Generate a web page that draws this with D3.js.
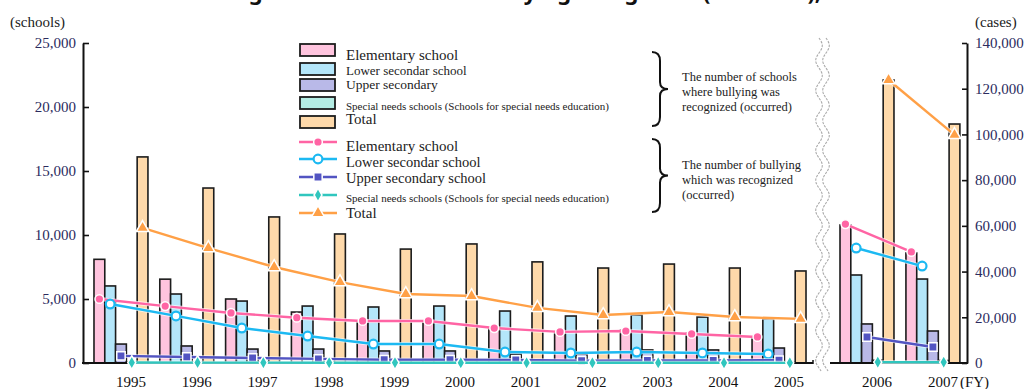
<!DOCTYPE html>
<html>
<head>
<meta charset="utf-8">
<script src="https://cdn.jsdelivr.net/npm/d3@7"></script>
<style>
  html, body { margin: 0; padding: 0; background: #fff; }
  svg { display: block; }
  text { font-family: "Liberation Serif", "DejaVu Serif", serif; }
</style>
</head>
<body>
<svg id="chart" width="1027" height="389"></svg>
<script>
// Fiscal years, split by the axis break
const yearsBefore = ["1995","1996","1997","1998","1999","2000","2001","2002","2003","2004","2005"];
const yearsAfter = ["2006","2007"];
const years = yearsBefore.concat(yearsAfter);

// Number of schools where bullying was recognized (bars, left axis)
const schoolsElementary = [8100, 6550, 5000, 3980, 3250, 3280, 2730, 2420, 2580, 2340, 2030, 10780, 8590];
const schoolsLowerSec   = [6020, 5390, 4840, 4450, 4375, 4450, 4060, 3670, 3750, 3590, 3440, 6875, 6560];
const schoolsUpperSec   = [1480, 1330, 1090, 1090, 940, 940, 700, 700, 1020, 1020, 1170, 3050, 2500];
const schoolsSpecial    = [60, 55, 50, 45, 45, 40, 40, 35, 40, 40, 40, 210, 190];
const schoolsTotal      = [16100, 13670, 11410, 10080, 8900, 9300, 7900, 7420, 7730, 7420, 7190, 22110, 18670];

// Number of bullying cases recognized (lines, right axis)
const casesElementary = [28000, 24900, 21900, 19800, 18400, 18400, 15300, 13600, 14000, 12700, 11400, 60800, 48600];
const casesLowerSec   = [25800, 20600, 15300, 11800, 8300, 8300, 4800, 4400, 4800, 4400, 3900, 50300, 42400];
const casesUpperSec   = [3100, 2600, 2200, 1800, 1400, 1400, 1300, 1000, 1100, 1100, 1200, 11400, 7000];
const casesSpecial    = [200, 180, 160, 130, 120, 100, 90, 80, 80, 80, 70, 380, 340];
const casesTotal      = [59100, 50300, 42000, 35400, 30200, 29300, 24100, 21000, 22300, 20100, 19300, 123800, 99800];

// Axis ticks
const schoolTicks = [0, 5000, 10000, 15000, 20000, 25000];
const caseTicks = [0, 20000, 40000, 60000, 80000, 100000, 120000, 140000];

// Legend labels
const barLabels = ["Elementary school", "Lower secondar school", "Upper secondary",
  "Special needs schools (Schools for special needs education)", "Total"];
const lineLabels = ["Elementary school", "Lower secondar school", "Upper secondary school",
  "Special needs schools (Schools for special needs education)", "Total"];
const seriesKeys = ["elem", "lower", "upper", "special", "total"];

const barFill  = { elem: "#ffc4de", lower: "#b4e6fa", upper: "#b9b9e8", special: "#b4ede4", total: "#fed9aa" };
const lineColor = { elem: "#ff64a4", lower: "#1cb9f2", upper: "#5254c2", special: "#30c6be", total: "#ffa046" };
const markerShape = { elem: d3.symbolCircle, lower: d3.symbolCircle, upper: d3.symbolSquare, special: d3.symbolDiamond, total: d3.symbolTriangle };
const markerSize = { elem: 60, lower: 60, upper: 70, special: 55, total: 70 };

const schoolsBySeries = { elem: schoolsElementary, lower: schoolsLowerSec, upper: schoolsUpperSec, special: schoolsSpecial, total: schoolsTotal };
const casesBySeries = { elem: casesElementary, lower: casesLowerSec, upper: casesUpperSec, special: casesSpecial, total: casesTotal };

const svg = d3.select("#chart");

// Scales
const yTop = 43, yBase = 363;
const ySchools = d3.scaleLinear().domain([0, 25000]).range([yBase, yTop]);
const yCases = d3.scaleLinear().domain([0, 140000]).range([yBase, yTop]);

const padIn = 0.18, padOut = 0.167;
const xBefore = d3.scaleBand().domain(yearsBefore).range([83, 817]).paddingInner(padIn).paddingOuter(padOut);
const xAfter = d3.scaleBand().domain(yearsAfter).range([829, 971]).paddingInner(padIn).paddingOuter(padOut);
const xYear = y => (yearsBefore.includes(y) ? xBefore(y) : xAfter(y));
const bw = xBefore.bandwidth();
const xSeries = d3.scaleBand().domain(seriesKeys).range([0, bw]);
const sw = xSeries.bandwidth();

// Title (runs off the top edge of the frame)
svg.append("text")
  .attr("x", 530).attr("y", 0)
  .attr("text-anchor", "middle")
  .style("font-family", "'Noto Sans', sans-serif")
  .style("font-weight", "bold").style("font-size", "22px").attr("fill", "#111")
  .text("Changes in the number of bullying recognized (occurred), etc.");

// Bars
const barG = svg.append("g");
seriesKeys.forEach(k => {
  barG.selectAll(null)
    .data(years.map((y, i) => ({ year: y, v: schoolsBySeries[k][i] })))
    .join("rect")
    .attr("x", d => xYear(d.year) + xSeries(k))
    .attr("y", d => ySchools(d.v))
    .attr("width", sw)
    .attr("height", d => yBase - ySchools(d.v))
    .attr("fill", barFill[k])
    .attr("stroke", "#1c1c1c")
    .attr("stroke-width", 1.6);
});

// Axis break (double wavy line)
const wave = d3.line().curve(d3.curveBasis);
function wavePts(cx) {
  const pts = [];
  for (let y = 38; y <= 372; y += 3) pts.push([cx + 3.5 * Math.sin((y - 38) / 30 * 2 * Math.PI), y]);
  return pts;
}
const breakG = svg.append("g");
breakG.append("path").attr("d", wave(wavePts(819))).attr("fill", "none")
  .attr("stroke", "#aaa").attr("stroke-width", 1.1).attr("stroke-dasharray", "2.5 1.2");
breakG.append("path").attr("d", wave(wavePts(826))).attr("fill", "none")
  .attr("stroke", "#aaa").attr("stroke-width", 1.1).attr("stroke-dasharray", "2.5 1.2");

// Base lines
svg.append("line").attr("x1", 82).attr("x2", 813).attr("y1", yBase).attr("y2", yBase)
  .attr("stroke", "#111").attr("stroke-width", 2);
svg.append("line").attr("x1", 813).attr("x2", 813).attr("y1", yBase - 3).attr("y2", yBase + 1)
  .attr("stroke", "#111").attr("stroke-width", 1.5);
svg.append("line").attr("x1", 830).attr("x2", 968).attr("y1", yBase).attr("y2", yBase)
  .attr("stroke", "#111").attr("stroke-width", 2);

// Left axis (schools)
const leftAxis = svg.append("g").attr("transform", "translate(83,0)")
  .call(d3.axisLeft(ySchools).tickValues(schoolTicks).tickFormat(d3.format(","))
    .tickSizeInner(-6).tickSizeOuter(0).tickPadding(7));
leftAxis.select(".domain").attr("stroke", "#111").attr("stroke-width", 2);
leftAxis.selectAll(".tick line").attr("stroke", "#111").attr("stroke-width", 1.6);
leftAxis.selectAll(".tick text").attr("fill", "#2b2b5e")
  .style("font-family", "'Liberation Serif', serif").style("font-size", "15px");

// Right axis (cases)
const rightAxis = svg.append("g").attr("transform", "translate(967,0)")
  .call(d3.axisRight(yCases).tickValues(caseTicks).tickFormat(d3.format(","))
    .tickSizeInner(-5).tickSizeOuter(0).tickPadding(8));
rightAxis.select(".domain").attr("stroke", "#111").attr("stroke-width", 2);
rightAxis.selectAll(".tick line").attr("stroke", "#111").attr("stroke-width", 1.6);
rightAxis.selectAll(".tick text").attr("fill", "#2b2b5e")
  .style("font-family", "'Liberation Serif', serif").style("font-size", "15px");

// Unit labels
svg.append("text").attr("x", 10).attr("y", 27).style("font-size", "15px").attr("fill", "#222").text("(schools)");
svg.append("text").attr("x", 975).attr("y", 27).style("font-size", "15px").attr("fill", "#222").text("(cases)");

// Year labels
svg.append("g").selectAll("text")
  .data(years)
  .join("text")
  .attr("x", d => xYear(d) + bw / 2 + 10)
  .attr("y", 387)
  .attr("text-anchor", "middle")
  .style("font-size", "15px").attr("fill", "#111")
  .text(d => d);
svg.append("text").attr("x", xAfter("2007") + bw / 2 + 27).attr("y", 387)
  .style("font-size", "15px").attr("fill", "#111").text("(FY)");

// Lines with markers (segments drawn separately on each side of the break)
const lineGen = d3.line().x(d => d.x).y(d => d.y);
function drawMarker(g, k, x, y) {
  const s = g.append("path")
    .attr("d", d3.symbol().type(markerShape[k]).size(markerSize[k])())
    .attr("transform", `translate(${x},${y})`)
    .attr("stroke", "#fff").attr("stroke-width", 1.5);
  if (k === "lower") {
    s.attr("fill", "#fff").attr("stroke", lineColor[k]).attr("stroke-width", 2.2);
  } else {
    s.attr("fill", lineColor[k]);
  }
}
const lineG = svg.append("g");
seriesKeys.forEach(k => {
  const pts = years.map((y, i) => ({
    year: y,
    x: xYear(y) + xSeries(k) + sw / 2,
    y: yCases(casesBySeries[k][i])
  }));
  [pts.filter(p => yearsBefore.includes(p.year)), pts.filter(p => yearsAfter.includes(p.year))]
    .forEach(seg => {
      lineG.append("path").attr("d", lineGen(seg)).attr("fill", "none")
        .attr("stroke", "#fff").attr("stroke-width", 4).attr("stroke-opacity", 0.7);
      lineG.append("path").attr("d", lineGen(seg)).attr("fill", "none")
        .attr("stroke", lineColor[k]).attr("stroke-width", 2.4);
    });
  pts.forEach(p => drawMarker(lineG, k, p.x, p.y));
});

// Legend: bars
const legG = svg.append("g");
const barLegRectY = [44, 63, 79, 97, 116];
const barLegTextY = [60, 75, 89, 110, 124];
const barLegSize = [15, 13, 13.5, 11, 15];
seriesKeys.forEach((k, i) => {
  legG.append("rect").attr("x", 300).attr("y", barLegRectY[i]).attr("width", 35).attr("height", 12)
    .attr("fill", barFill[k]).attr("stroke", "#1c1c1c").attr("stroke-width", 1.8);
  legG.append("text").attr("x", 346).attr("y", barLegTextY[i])
    .style("font-size", barLegSize[i] + "px").attr("fill", "#222").text(barLabels[i]);
});

// Legend: lines
const lineLegY = [142, 159, 177, 195, 213];
const lineLegTextY = [151, 167, 183, 202, 218];
const lineLegSize = [15, 14.5, 14.5, 11, 15];
seriesKeys.forEach((k, i) => {
  legG.append("line").attr("x1", 299).attr("x2", 337).attr("y1", lineLegY[i]).attr("y2", lineLegY[i])
    .attr("stroke", lineColor[k]).attr("stroke-width", 2.6);
  drawMarker(legG, k, 318, lineLegY[i]);
  legG.append("text").attr("x", 346).attr("y", lineLegTextY[i])
    .style("font-size", lineLegSize[i] + "px").attr("fill", "#222").text(lineLabels[i]);
});

// Braces with group notes
function brace(x0, y0, y1) {
  const xm = x0 + 8, ym = (y0 + y1) / 2, xt = x0 + 16;
  return `M${x0},${y0} Q${xm},${y0} ${xm},${y0 + 9} L${xm},${ym - 7} Q${xm},${ym} ${xt},${ym}` +
    ` Q${xm},${ym} ${xm},${ym + 7} L${xm},${y1 - 9} Q${xm},${y1} ${x0},${y1}`;
}
svg.append("path").attr("d", brace(652, 52, 126)).attr("fill", "none").attr("stroke", "#111").attr("stroke-width", 2);
svg.append("path").attr("d", brace(652, 139, 212)).attr("fill", "none").attr("stroke", "#111").attr("stroke-width", 2);

const note1 = ["The number of schools", "where bullying was", "recognized (occurred)"];
const note2 = ["The number of bullying", "which was recognized", "(occurred)"];
note1.forEach((t, i) => svg.append("text").attr("x", 682).attr("y", 77 + i * 15).attr("dy", "0.35em")
  .style("font-size", "12.5px").attr("fill", "#222").text(t));
note2.forEach((t, i) => svg.append("text").attr("x", 682).attr("y", 165 + i * 15).attr("dy", "0.35em")
  .style("font-size", "12.5px").attr("fill", "#222").text(t));
</script>
</body>
</html>
